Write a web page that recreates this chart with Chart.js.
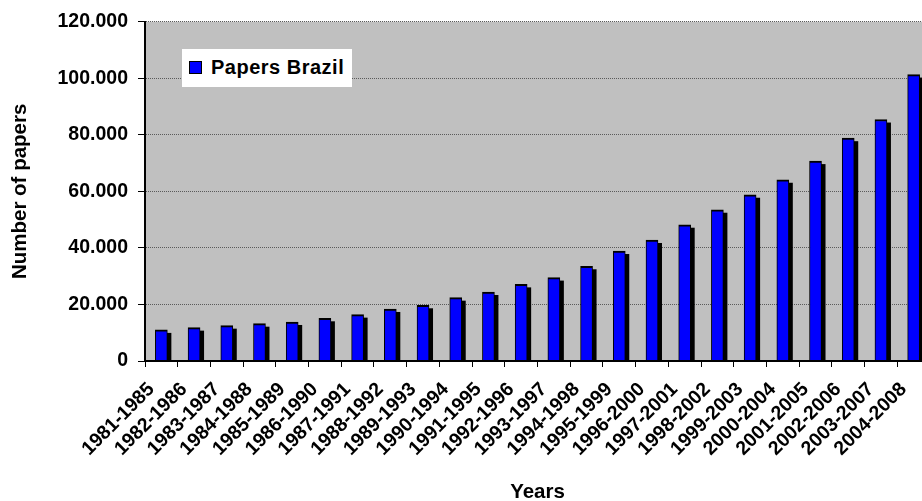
<!DOCTYPE html>
<html>
<head>
<meta charset="utf-8">
<script src="https://cdn.jsdelivr.net/npm/chart.js@4.4.1/dist/chart.umd.min.js"></script>
<style>
  html, body { margin: 0; padding: 0; background: #fff; overflow: hidden; }
  #wrap { position: relative; width: 930px; height: 501px; }
  #legend {
    position: absolute; left: 182px; top: 49px; width: 170px; height: 38px;
    background: #fff; font: bold 20px "Liberation Sans", Arial, sans-serif;
    letter-spacing: 0.5px; color: #000;
  }
  #legend .swatch {
    position: absolute; left: 7px; top: 12px; width: 11px; height: 11px;
    background: #0000ff; border: 1px solid #000;
  }
  #legend .label { position: absolute; left: 29px; top: 7px; }
</style>
</head>
<body>
<div id="wrap">
  <canvas id="papersChart"></canvas>
  <div id="legend"><span class="swatch"></span><span class="label">Papers Brazil</span></div>
</div>
<script>
const periods = [
  "1981-1985", "1982-1986", "1983-1987", "1984-1988", "1985-1989", "1986-1990",
  "1987-1991", "1988-1992", "1989-1993", "1990-1994", "1991-1995", "1992-1996",
  "1993-1997", "1994-1998", "1995-1999", "1996-2000", "1997-2001", "1998-2002",
  "1999-2003", "2000-2004", "2001-2005", "2002-2006", "2003-2007", "2004-2008"
];
const papersBrazil = [
  11000, 11800, 12500, 13200, 13800, 15100,
  16400, 18400, 19700, 22400, 24400, 27100,
  29500, 33500, 38900, 42800, 48200, 53500,
  58800, 64100, 70700, 78800, 85400, 101300
];
const yTicks = [0, 20000, 40000, 60000, 80000, 100000, 120000];

const font = "'Liberation Sans', Arial, sans-serif";

// grey plot area + black drop shadow behind each bar
const plotStyle = {
  id: "plotStyle",
  beforeDraw(chart) {
    const { ctx, chartArea: a } = chart;
    ctx.save();
    ctx.fillStyle = "#c0c0c0";
    ctx.fillRect(a.left, a.top, a.right - a.left, a.bottom - a.top);
    ctx.restore();
  },
  beforeDatasetsDraw(chart) {
    const { ctx, chartArea: a } = chart;
    ctx.save();
    ctx.beginPath();
    ctx.rect(a.left, a.top, a.right - a.left, a.bottom - a.top);
    ctx.clip();
    ctx.fillStyle = "#000";
    chart.getDatasetMeta(0).data.forEach((bar) => {
      const { x, y, base, width } = bar.getProps(["x", "y", "base", "width"], true);
      ctx.fillRect(x - width / 2 + 4, y + 3, width, base - y);
    });
    ctx.restore();
  }
};

new Chart(document.getElementById("papersChart"), {
  type: "bar",
  data: {
    labels: periods,
    datasets: [{
      label: "Papers Brazil",
      data: papersBrazil,
      backgroundColor: "#0000ff",
      borderColor: "#000",
      borderWidth: { top: 2, left: 1, right: 1, bottom: 0 },
      barThickness: 12
    }]
  },
  options: {
    responsive: true,
    maintainAspectRatio: false,
    animation: false,
    layout: { padding: { top: 21, right: 0, left: 0, bottom: 0 } },
    plugins: { legend: { display: false }, tooltip: { enabled: false } },
    scales: {
      x: {
        offset: true,
        grid: { display: true, drawOnChartArea: false, offset: true, tickLength: 6, tickColor: "#000", tickWidth: 1 },
        border: { color: "#000", width: 2, z: 1 },
        ticks: {
          autoSkip: false, maxRotation: 45, minRotation: 45, padding: 11, labelOffset: -10,
          color: "#000", font: { family: font, size: 19.5, weight: "bold" }
        },
        title: {
          display: true, text: "Years", color: "#000",
          font: { family: font, size: 20.5, weight: "bold", lineHeight: 0.8 },
          padding: 0
        },
        afterFit(scale) { scale.height = 140; scale.paddingRight = 0; }
      },
      y: {
        min: 0, max: 120000,
        afterBuildTicks(scale) { scale.ticks = yTicks.map(v => ({ value: v })); },
        grid: {
          color: (c) => (c.tick && c.tick.value === 0 ? "rgba(0,0,0,0)" : "#5a5a5a"),
          tickColor: "#000", tickLength: 7, tickBorderDash: [], lineWidth: 1
        },
        border: { color: "#000", width: 2, dash: [1, 1], z: 1 },
        ticks: {
          padding: 10, color: "#000",
          font: { family: font, size: 19.5, weight: "bold" },
          callback: (v) => v.toLocaleString("de-DE")
        },
        title: {
          display: true, text: "Number of papers", color: "#000",
          font: { family: font, size: 20.5, weight: "bold", lineHeight: 1 },
          padding: { top: 10, bottom: 0 }
        },
        afterFit(scale) { scale.width = 145; }
      }
    }
  },
  plugins: [plotStyle]
});
</script>
</body>
</html>
